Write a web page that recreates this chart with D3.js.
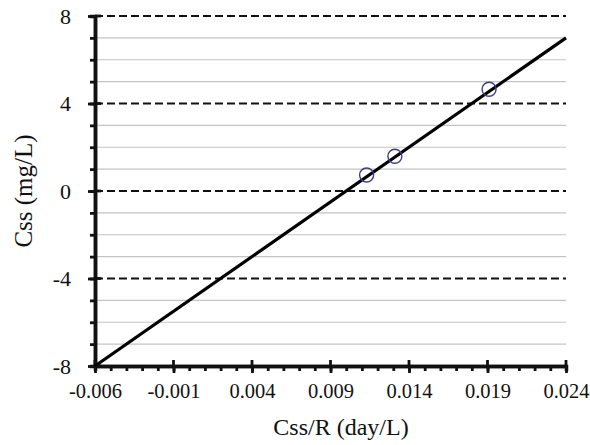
<!DOCTYPE html>
<html>
<head>
<meta charset="utf-8">
<script src="https://cdn.jsdelivr.net/npm/d3@7"></script>
<style>
  body { margin: 0; background: #fff; }
  text { font-family: "Liberation Serif", "DejaVu Serif", serif; fill: #111; }
</style>
</head>
<body>
<div id="vis"></div>
<script>
// data
var xTicks = [-0.006, -0.001, 0.004, 0.009, 0.014, 0.019, 0.024]
var yTicks = [-8, -4, 0, 4, 8]
var pointsX = [0.0113, 0.0131, 0.0191]
var pointsY = [0.73, 1.59, 4.65]
var fitX = [-0.006, 0.024]
var fitY = [-8, 7]

const width = 590, height = 445
const margin = {left: 95, top: 16, right: 24, bottom: 79}

let svg = d3.select('#vis').append('svg')
	.attr('width', width)
	.attr('height', height)

let xScale = d3.scaleLinear([-0.006, 0.024], [margin.left, width - margin.right])
let yScale = d3.scaleLinear([-8, 8], [height - margin.bottom, margin.top])

// minor values: every 0.001 on x, every 1 on y
let xMinor = d3.range(0, 31).map(i => -0.006 + i * 0.001)
let yMinor = d3.range(-8, 9)

// plain hyphen instead of unicode minus
let fmtX = d => d3.format('.3f')(d).replace('\u2212', '-')
let fmtY = d => d3.format('d')(d).replace('\u2212', '-')

// light grid lines
svg.append('g')
	.selectAll('line')
	.data(yMinor.filter(d => d % 4 != 0))
	.enter().append('line')
	.attr('x1', xScale(-0.006)).attr('x2', xScale(0.024))
	.attr('y1', d => yScale(d)).attr('y2', d => yScale(d))
	.attr('stroke', '#c4c4c4')
	.attr('stroke-width', 1.2)

// dashed major grid lines
svg.append('g')
	.selectAll('line')
	.data(yTicks.filter(d => d != -8))
	.enter().append('line')
	.attr('x1', xScale(-0.006)).attr('x2', xScale(0.024))
	.attr('y1', d => yScale(d)).attr('y2', d => yScale(d))
	.attr('stroke', '#111')
	.attr('stroke-width', 2.2)
	.attr('stroke-dasharray', '8,4')

// y axis
let yAxis = svg.append('g').attr('transform', `translate(${margin.left},0)`)
yAxis.call(d3.axisLeft(yScale).tickValues(yMinor).tickSize(5).tickFormat(''))
yAxis.selectAll('text').remove()
let yMajor = yAxis.append('g').call(d3.axisLeft(yScale).tickValues(yTicks).tickSizeInner(7).tickSizeOuter(0).tickPadding(17).tickFormat(fmtY))
yAxis.selectAll('.domain').attr('stroke-width', 3.5).attr('stroke', '#111')
yAxis.selectAll('.tick line').attr('stroke-width', 2.8).attr('stroke', '#111')
yAxis.append('g').selectAll('line')
	.data(yTicks).enter().append('line')
	.attr('x1', 0).attr('x2', 6)
	.attr('y1', d => yScale(d)).attr('y2', d => yScale(d))
	.attr('stroke', '#111').attr('stroke-width', 2.8)
yMajor.selectAll('text')
	.attr('font-size', 22)
	.attr('font-family', '"Liberation Serif", serif')
	.attr('fill', '#111')

// x axis
let xAxis = svg.append('g').attr('transform', `translate(0,${height - margin.bottom})`)
xAxis.call(d3.axisBottom(xScale).tickValues(xMinor).tickSize(5).tickFormat(''))
xAxis.selectAll('text').remove()
let xMajor = xAxis.append('g').call(d3.axisBottom(xScale).tickValues(xTicks).tickSizeInner(7).tickSizeOuter(0).tickPadding(10).tickFormat(fmtX))
xAxis.selectAll('.domain').attr('stroke-width', 3.5).attr('stroke', '#111')
xAxis.selectAll('.tick line').attr('stroke-width', 2.8).attr('stroke', '#111')
xAxis.append('g').selectAll('line')
	.data(xTicks).enter().append('line')
	.attr('x1', d => xScale(d)).attr('x2', d => xScale(d))
	.attr('y1', 0).attr('y2', -6)
	.attr('stroke', '#111').attr('stroke-width', 2.8)
xMajor.selectAll('text')
	.attr('font-size', 20.5)
	.attr('font-family', '"Liberation Serif", serif')
	.attr('fill', '#111')

// fitted line
let line = d3.line().x(d => xScale(d[0])).y(d => yScale(d[1]))
svg.append('path')
	.datum(d3.zip(fitX, fitY))
	.attr('d', line)
	.attr('fill', 'none')
	.attr('stroke', '#000')
	.attr('stroke-width', 3.2)

// observed points
svg.append('g')
	.selectAll('circle')
	.data(d3.zip(pointsX, pointsY))
	.enter().append('circle')
	.attr('cx', d => xScale(d[0]))
	.attr('cy', d => yScale(d[1]))
	.attr('r', 7)
	.attr('fill', 'none')
	.attr('stroke', '#3c3c86')
	.attr('stroke-width', 1.4)

// titles
svg.append('text')
	.attr('x', 341).attr('y', 435)
	.attr('text-anchor', 'middle')
	.attr('font-size', 24)
	.text('Css/R (day/L)')

svg.append('text')
	.attr('transform', 'translate(32,191) rotate(-90)')
	.attr('text-anchor', 'middle')
	.attr('font-size', 25)
	.text('Css (mg/L)')
</script>
</body>
</html>
